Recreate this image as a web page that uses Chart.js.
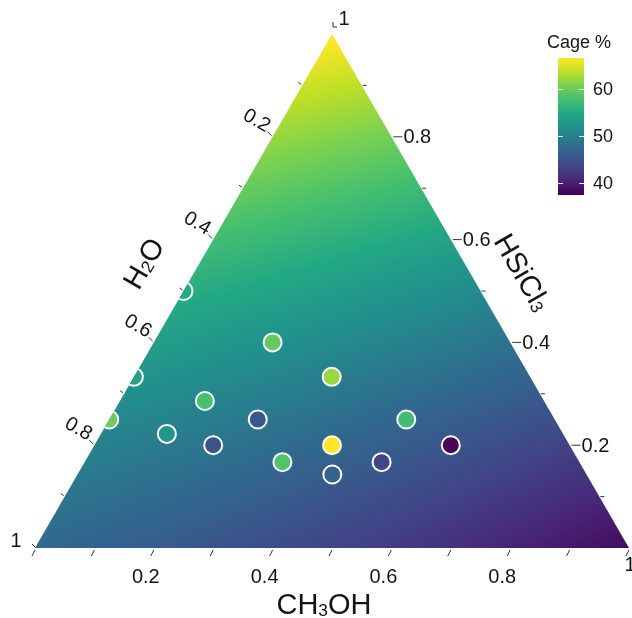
<!DOCTYPE html>
<html>
<head>
<meta charset="utf-8">
<script src="https://cdn.jsdelivr.net/npm/chart.js@4/dist/chart.umd.min.js"></script>
<style>
  html, body { margin: 0; padding: 0; background: #fff; }
  canvas { display: block; }
</style>
</head>
<body>
<canvas id="chart-ternary" width="632" height="618"></canvas>
<script>
const h2o     = [0.50, 0.40, 0.667, 0.333, 0.571, 0.75, 0.50, 0.25, 0.667, 0.60, 0.40, 0.20, 0.50, 0.333, 0.429];
const ch3oh   = [0.00, 0.20, 0.000, 0.333, 0.143, 0.00, 0.25, 0.50, 0.111, 0.20, 0.40, 0.60, 0.333, 0.50, 0.429];
const hsicl3  = [0.50, 0.40, 0.333, 0.333, 0.286, 0.25, 0.25, 0.25, 0.222, 0.20, 0.20, 0.20, 0.167, 0.167, 0.143];
const cagePct = [55, 59.5, 54.5, 62, 58, 60, 45.6, 57.5, 52.6, 44.8, 66.5, 38, 58.5, 43.3, 46.5];

// background surface, read on a 0.25 grid (CH3OH, HSiCl3 -> Cage %)
const gridCH3OH  = [0, 0.25, 0.5, 0.75, 1,   0, 0.25, 0.5, 0.75,   0, 0.25, 0.5,   0, 0.25,   0];
const gridHSiCl3 = [0, 0, 0, 0, 0,   0.25, 0.25, 0.25, 0.25,   0.5, 0.5, 0.5,   0.75, 0.75,   1];
const gridCage   = [47.5, 45.5, 43.3, 41.2, 38.5,   51, 49, 47, 44,   55.5, 53.5, 51,   61, 59.5,   66.5];

// axes
const majorTicks = [0.2, 0.4, 0.6, 0.8];
const minorTicks = [0.1, 0.3, 0.5, 0.7, 0.9];
const barTicks = [40, 50, 60];
const cageMin = 37.5, cageMax = 66.5;

const FONT = '"Liberation Sans", Arial, sans-serif';
const S3 = Math.sqrt(3) / 2;

// viridis
const vir = ['#440154','#482475','#414487','#355f8d','#2a788e','#21918c','#22a884','#44bf70','#7ad151','#bddf26','#fde725']
  .map(h => [1, 3, 5].map(i => parseInt(h.substr(i, 2), 16)));
function viridis(v) {
  let t = (v - cageMin) / (cageMax - cageMin);
  t = Math.max(0, Math.min(1, t));
  const s = t * 10, i = Math.min(9, Math.floor(s)), f = s - i;
  return vir[i].map((c, k) => Math.round(c + (vir[i + 1][k] - c) * f));
}
const rgb = a => 'rgb(' + a.join(',') + ')';

// quadratic least squares through the grid readings
const basis = (c, h) => [1, c, h, c * c, h * h, c * h];
const coef = (function () {
  const n = 6, A = [], b = new Array(n).fill(0);
  for (let i = 0; i < n; i++) A.push(new Array(n).fill(0));
  gridCage.forEach((v, k) => {
    const f = basis(gridCH3OH[k], gridHSiCl3[k]);
    for (let i = 0; i < n; i++) {
      b[i] += f[i] * v;
      for (let j = 0; j < n; j++) A[i][j] += f[i] * f[j];
    }
  });
  for (let i = 0; i < n; i++) {
    let p = i;
    for (let r = i + 1; r < n; r++) if (Math.abs(A[r][i]) > Math.abs(A[p][i])) p = r;
    [A[i], A[p]] = [A[p], A[i]]; [b[i], b[p]] = [b[p], b[i]];
    for (let r = i + 1; r < n; r++) {
      const m = A[r][i] / A[i][i];
      for (let j = i; j < n; j++) A[r][j] -= m * A[i][j];
      b[r] -= m * b[i];
    }
  }
  const x = new Array(n).fill(0);
  for (let i = n - 1; i >= 0; i--) {
    let s = b[i];
    for (let j = i + 1; j < n; j++) s -= A[i][j] * x[j];
    x[i] = s / A[i][i];
  }
  return x;
})();
const surface = (c, h) => basis(c, h).reduce((s, f, i) => s + f * coef[i], 0);

// ternary -> pixel through the chart scales
function tern(chart, c, h) {
  const { x, y } = chart.scales;
  return [x.getPixelForValue(c + h / 2), y.getPixelForValue(h * S3)];
}
function triPath(chart, ctx) {
  const a = tern(chart, 0, 0), b = tern(chart, 1, 0), t = tern(chart, 0, 1);
  ctx.beginPath(); ctx.moveTo(a[0], a[1]); ctx.lineTo(b[0], b[1]); ctx.lineTo(t[0], t[1]); ctx.closePath();
}
function rich(ctx, parts, x, y, ang, size) {
  ctx.save();
  ctx.translate(x, y); ctx.rotate(ang);
  ctx.textBaseline = 'alphabetic'; ctx.textAlign = 'left';
  let w = 0;
  parts.forEach(p => { ctx.font = (size * p[1]) + 'px ' + FONT; p.w = ctx.measureText(p[0]).width; w += p.w; });
  let cx = -w / 2;
  parts.forEach(p => {
    ctx.font = (size * p[1]) + 'px ' + FONT;
    ctx.fillText(p[0], cx, size * 0.36 + (p[1] < 1 ? size * 0.04 : 0));
    cx += p.w;
  });
  ctx.restore();
}
function line(ctx, x1, y1, x2, y2) { ctx.beginPath(); ctx.moveTo(x1, y1); ctx.lineTo(x2, y2); ctx.stroke(); }

const ternaryPlugin = {
  id: 'ternary',
  beforeDatasetsDraw(chart) {
    const { ctx, chartArea: a, scales: { x, y } } = chart;
    const W = Math.ceil(a.right - a.left) + 2, H = Math.ceil(a.bottom - a.top) + 2;
    const off = document.createElement('canvas');
    off.width = W; off.height = H;
    const octx = off.getContext('2d');
    const img = octx.createImageData(W, H);
    for (let py = 0; py < H; py++) {
      const Y = y.getValueForPixel(a.top - 1 + py + 0.5);
      const h = Y / S3;
      for (let px = 0; px < W; px++) {
        const X = x.getValueForPixel(a.left - 1 + px + 0.5);
        const col = viridis(surface(X - h / 2, h));
        const k = (py * W + px) * 4;
        img.data[k] = col[0]; img.data[k + 1] = col[1]; img.data[k + 2] = col[2]; img.data[k + 3] = 255;
      }
    }
    octx.putImageData(img, 0, 0);
    ctx.save();
    triPath(chart, ctx);
    ctx.clip();
    ctx.drawImage(off, a.left - 1, a.top - 1);
  },
  afterDatasetsDraw(chart) {
    chart.ctx.restore();
  },
  afterDraw(chart) {
    const ctx = chart.ctx;
    ctx.save();
    ctx.strokeStyle = '#333'; ctx.lineWidth = 1;
    ctx.fillStyle = '#141414';
    ctx.font = '20px ' + FONT;

    // bottom: CH3OH
    [0, ...minorTicks, ...majorTicks, 1].forEach(v => {
      const p = tern(chart, v, 0);
      line(ctx, p[0], p[1] + 2, p[0] - 3, p[1] + 8);
    });
    ctx.textAlign = 'center'; ctx.textBaseline = 'middle';
    majorTicks.forEach(v => {
      const p = tern(chart, v, 0);
      ctx.fillText(String(v), p[0] - 8, p[1] + 29);
    });

    // right: HSiCl3
    minorTicks.forEach(v => {
      const p = tern(chart, 1 - v, v);
      line(ctx, p[0] + 1, p[1], p[0] + 5, p[1]);
    });
    ctx.textAlign = 'left';
    majorTicks.forEach(v => {
      const p = tern(chart, 1 - v, v);
      line(ctx, p[0] + 2, p[1], p[0] + 11, p[1]);
      ctx.fillText(String(v), p[0] + 12, p[1] + 1);
    });

    // left: H2O
    minorTicks.forEach(v => {
      const p = tern(chart, 0, 1 - v);
      line(ctx, p[0] - 1, p[1] - 1, p[0] - 4, p[1] - 3);
    });
    majorTicks.forEach(v => {
      const p = tern(chart, 0, 1 - v);
      line(ctx, p[0] - 1, p[1] - 1, p[0] - 5, p[1] - 5);
      ctx.save();
      ctx.translate(p[0] - 16, p[1] - 16);
      ctx.rotate(Math.PI / 6);
      ctx.textAlign = 'center';
      ctx.fillText(String(v), 0, 0);
      ctx.restore();
    });

    // vertex labels "1"
    ctx.textAlign = 'center';
    const top = tern(chart, 0, 1), bl = tern(chart, 0, 0), br = tern(chart, 1, 0);
    line(ctx, top[0] + 1, top[1] - 12, top[0] + 1, top[1] - 7);
    line(ctx, top[0] + 1, top[1] - 7, top[0] + 5, top[1] - 7);
    ctx.fillText('1', top[0] + 12, top[1] - 15);
    line(ctx, bl[0] - 3, bl[1] - 4, bl[0], bl[1] - 1);
    ctx.fillText('1', bl[0] - 19, bl[1] - 7);
    ctx.fillText('1', br[0] + 1, br[1] + 17);

    // axis titles
    rich(ctx, [['CH', 1], ['3', 0.6], ['OH', 1]], 324, 604, 0, 29);
    rich(ctx, [['H', 1], ['2', 0.6], ['O', 1]], 143, 263, -Math.PI / 3, 29);
    rich(ctx, [['HSiCl', 1], ['3', 0.6]], 523, 272, Math.PI / 3, 29);

    // colour bar
    const bx = 558, bw = 26, by = 58, bh = 137;
    const yOf = v => by + (cageMax - v) / (cageMax - cageMin) * bh;
    for (let r = 0; r < bh; r++) {
      ctx.fillStyle = rgb(viridis(cageMax - (r + 0.5) / bh * (cageMax - cageMin)));
      ctx.fillRect(bx, by + r, bw, 1);
    }
    ctx.strokeStyle = 'rgba(255,255,255,0.9)';
    ctx.fillStyle = '#141414';
    ctx.font = '18px ' + FONT;
    ctx.textAlign = 'left';
    barTicks.forEach(v => {
      const yy = Math.round(yOf(v)) + 0.5;
      line(ctx, bx, yy, bx + 5, yy);
      line(ctx, bx + bw - 5, yy, bx + bw, yy);
      ctx.fillText(String(v), bx + bw + 9, yy + 1);
    });
    ctx.textAlign = 'center';
    ctx.fillText('Cage %', 579, 43);
    ctx.restore();
  }
};

new Chart(document.getElementById('chart-ternary'), {
  type: 'scatter',
  data: {
    datasets: [{
      label: 'Cage %',
      data: ch3oh.map((c, i) => ({ x: c + hsicl3[i] / 2, y: hsicl3[i] * S3 })),
      pointBackgroundColor: cagePct.map(v => rgb(viridis(v))),
      pointBorderColor: '#ffffff',
      pointBorderWidth: 2,
      pointRadius: 9,
      clip: false
    }]
  },
  options: {
    responsive: false,
    animation: false,
    events: [],
    layout: { autoPadding: false, padding: { left: 35, right: 3, top: 34, bottom: 70 } },
    scales: {
      x: { type: 'linear', min: 0, max: 1, display: false },
      y: { type: 'linear', min: 0, max: S3, display: false }
    },
    plugins: { legend: { display: false }, tooltip: { enabled: false } }
  },
  plugins: [ternaryPlugin]
});
</script>
</body>
</html>
